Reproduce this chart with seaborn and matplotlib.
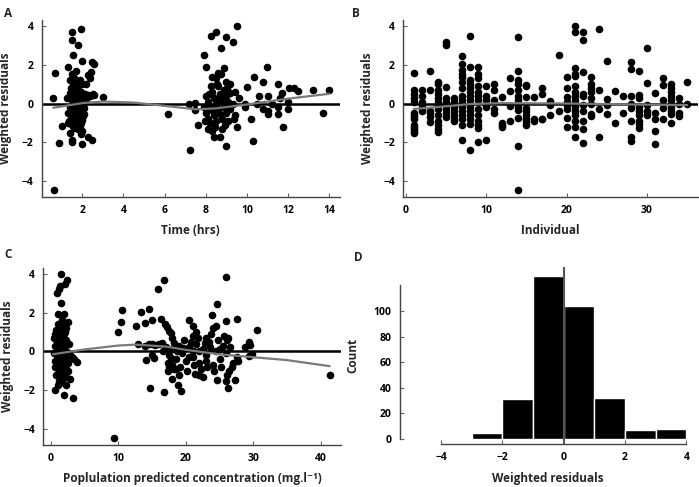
import matplotlib
matplotlib.use("Agg")
import matplotlib.pyplot as plt
import seaborn as sns

# ---- panel A: weighted residuals vs time ----
a_time = [0.6, 0.7, 0.9, 1.0, 0.65, 1.5, 1.5, 1.95, 1.8, 1.55, 2.0, 2.5, 2.6, 1.3, 1.7, 2.45, 2.4, 3.0,
          2.55, 1.3, 1.4, 1.5, 1.5, 2.0, 2.3, 2.5, 2.0, 1.95, 2.2, 2.3,
          1.4, 1.5, 1.6, 1.7, 1.8, 1.9, 2.0, 1.45, 1.55, 1.65, 1.75, 1.85, 1.95, 2.05, 2.15, 1.35,
          1.5, 1.6, 1.7, 1.8, 1.9, 2.0, 2.1, 2.2, 2.3, 1.4, 1.5, 1.6, 1.7, 1.8, 1.9, 2.0, 2.1,
          1.45, 1.55, 1.65, 1.75, 1.85, 1.95, 2.05, 1.35, 1.5, 1.6, 1.7, 1.8, 1.9, 2.0, 2.1,
          1.55, 1.65, 1.75, 1.85, 1.6, 1.4, 2.4, 2.6, 1.25, 1.3,
          6.15, 7.25, 7.2, 7.5, 7.5, 7.6, 7.9, 8.0, 8.25, 8.5, 8.75, 9.0, 9.3, 9.5, 8.9, 8.6, 8.75,
          8.5, 8.3, 9.0, 9.2, 9.4, 9.6, 10.0, 10.35, 10.8, 10.95, 11.5, 11.7, 12.05, 12.3, 12.5,
          13.2, 14.0, 13.7, 11.75, 10.3, 10.2, 9.0, 9.5, 8.4, 8.7, 8.1, 8.3, 8.8, 10.6, 11.0, 11.0,
          11.0, 11.5, 11.5, 12.0, 12.0, 10.8, 9.9, 9.9, 10.5, 11.2, 11.6,
          8.0, 8.1, 8.2, 8.0, 8.1, 8.2, 8.3, 8.4, 8.5, 8.3, 8.4, 8.5, 8.6, 8.7, 8.8, 8.6, 8.7, 8.8,
          8.9, 9.0, 9.1, 8.9, 9.0, 9.1, 9.2, 9.3, 9.4, 9.2, 8.55, 8.45, 8.95, 9.35, 7.9, 7.95,
          8.65, 9.05, 8.25, 8.15]
a_wres = [0.3, 1.55, -2.05, -1.15, -4.45, 3.7, 3.25, 3.85, 3.0, 2.5, 2.2, 2.15, 2.05, 1.9, 1.65, 1.6, 1.3, 0.35,
          0.5, -1.0, -1.5, -1.9, -2.0, -2.1, -1.75, -1.9, -1.4, -1.55, 1.0, 1.45,
          1.2, 1.5, 1.3, 1.1, 0.9, 1.2, 1.0, 0.8, 0.6, 0.7, 0.5, 0.4, 0.6, 0.3, 0.5, 0.35,
          0.2, 0.1, 0.25, 0.0, 0.15, -0.1, 0.05, 0.2, 0.45, -0.2, -0.35, -0.15, -0.4, -0.3, -0.5, -0.45, -0.25,
          -0.6, -0.8, -0.7, -0.9, -0.75, -1.0, -0.65, -0.9, -1.1, -1.25, -1.05, -1.3, -1.15, -0.85, -0.55,
          0.95, -0.5, 0.8, -0.6, 0.45, 0.55, 0.4, 0.45, 0.3, -0.5,
          -0.55, -2.4, -0.05, 0.05, -0.35, -1.1, 2.5, 1.9, 3.45, 3.7, 2.85, 3.4, 3.15, 4.0, 1.85, 1.55, 1.5,
          1.3, 1.35, 1.1, 1.0, 0.6, 0.3, 0.85, 1.35, 1.1, 1.9, 1.0, 0.55, 0.8, 0.8, 0.65,
          0.7, 0.7, -0.5, -1.2, -1.95, -0.8, -2.2, -1.2, -1.75, -1.75, -1.3, -1.4, -1.3, 0.4, 0.4, -0.4,
          -0.55, -0.2, -0.55, -0.3, 0.1, -0.3, -0.2, 0.0, 0.0, 0.0, 0.3,
          0.4, 0.1, -0.2, -0.5, -0.8, -1.0, 0.6, 0.3, 0.0, -0.35, -0.6, -0.9, 0.9, 0.5, 0.2, -0.3, -0.55, -0.8,
          0.7, 0.4, 0.1, -0.2, -0.5, -0.9, -0.3, 0.0, -0.6, 0.55, 1.0, -1.2, -1.1, -0.8, -0.2, -0.9,
          0.2, 0.8, 0.9, 0.5]
a_smooth_x = [0.6, 2.0, 3.0, 4.5, 6.0, 7.5, 8.5, 10.0, 12.0, 14.0]
a_smooth_y = [-0.22, 0.02, 0.1, 0.05, -0.12, -0.3, -0.25, -0.05, 0.25, 0.5]

# ---- panel B: weighted residuals by individual ----
b_res_by_id = {
    1: [1.55, 0.7, 0.5, 0.3, 0.1, -0.5, -0.6, -0.7, -0.8, -1.1, -1.2, -1.3, -1.4, -1.5],
    2: [0.7, 0.4, 0.1, -0.1, -0.3, -0.4],
    3: [1.65, 0.7, -0.4, -0.5, -0.7, -0.95],
    4: [1.1, 1.0, 0.7, 0.5, 0.3, 0.1, -0.1, -0.3, -0.6, -0.9, -1.1, -1.3, -1.45],
    5: [3.15, 3.0, 0.85, 0.3, 0.1, -0.1, -0.3, -0.5, -0.7],
    6: [0.3, 0.1, 0.0, -0.2, -0.4, -0.6, -0.8, -0.9],
    7: [2.45, 2.05, 1.7, 1.5, 1.35, 1.1, 0.8, 0.4, 0.2, 0.0, -0.2, -0.4, -0.6, -0.8, -1.1, -1.9],
    8: [3.45, 1.9, 1.2, 1.0, 0.8, 0.6, 0.4, 0.2, 0.0, -0.2, -0.4, -0.6, -0.8, -1.05, -2.4],
    9: [1.9, 1.5, 1.3, 0.9, 0.6, 0.4, 0.2, -0.3, -0.6, -0.9, -1.1, -1.25, -2.0],
    10: [0.9, 0.4, 0.2, -0.1, -0.2, -1.9],
    11: [1.0, 0.7, 0.2, -0.3, -0.5],
    12: [0.35, -1.0, -1.1, -1.2],
    13: [1.3, 0.65, -0.15, -0.9],
    14: [3.4, 1.65, 1.2, 1.0, 0.7, 0.4, 0.2, 0.0, -0.2, -0.35, -0.75, -2.2, -4.45],
    15: [0.95, 0.9, 0.35, -0.25, -0.4, -0.6, -0.8, -0.95, -1.1],
    16: [0.35, -0.8, -0.9],
    17: [0.8, 0.5, -0.8, -0.8],
    18: [0.15, -0.1, -0.6],
    19: [2.5, -0.4],
    20: [1.35, 0.8, 0.35, 0.1, -0.1, -0.3, -0.75, -1.2],
    21: [4.0, 3.7, 1.85, 1.5, 1.4, 0.9, 0.6, 0.4, 0.2, 0.0, -0.2, -0.4, -0.6, -0.9, -1.2, -1.75],
    22: [3.7, 3.25, 1.6, 0.5, 0.4, -0.1, -0.4, -0.9, -1.3, -2.05],
    23: [1.35, 1.0, 0.8, 0.6, 0.3, 0.0, -0.55, -0.65],
    24: [3.85, 0.7, -0.3, -1.7],
    25: [2.2, 0.25, -0.1, -0.55],
    26: [0.65, -1.0],
    27: [0.4, -0.5],
    28: [2.15, 1.8, 0.4, 0.0, -0.25, -0.9, -1.75, -1.95],
    29: [1.65, 0.45, 0.3, -0.2, -0.4, -0.6, -0.9, -1.05, -1.25],
    30: [2.85, 1.05, -0.1, -0.4, -0.6],
    31: [0.55, -0.5, -0.8, -1.4, -2.1],
    32: [1.3, 0.95, 0.2, -0.25, -0.8],
    33: [1.0, 0.8, 0.6, 0.4, 0.2, 0.0, -0.2, -0.4, -0.55, -1.0],
    34: [0.3, 0.0, -0.5, -0.65],
    35: [1.1, 0.0],
}
b_id = [i for i, v in b_res_by_id.items() for _ in v]
b_wres = [r for v in b_res_by_id.values() for r in v]
b_smooth_x = [1, 4, 8, 12, 20, 28, 35]
b_smooth_y = [-0.28, -0.18, -0.03, 0.02, 0.0, -0.05, -0.08]

# ---- panel C: weighted residuals vs population predicted concentration ----
c_conc = [1.5, 2.35, 2.1, 0.9, 1.2, 1.3, 1.55, 1.0, 2.0, 2.5, 0.65, 1.0, 2.0, 2.2, 3.25, 3.2, 3.5, 3.95,
          2.8, 1.7, 2.3,
          0.5, 0.6, 0.7, 0.8, 0.9, 1.0, 1.1, 1.2, 1.3, 1.4, 1.5, 1.6, 1.7, 1.8, 1.9, 2.0, 2.1, 2.2, 2.3,
          2.4, 0.6, 0.8, 1.0, 1.2, 1.4, 1.6, 1.8, 2.0, 2.2, 2.5, 2.6, 2.7, 0.7, 0.9, 1.1, 1.3, 1.5, 1.7,
          1.9, 2.1, 1.0, 1.4, 1.8, 2.3, 1.2, 1.6, 0.5, 1.15, 1.45, 1.85, 2.05, 2.9,
          9.3, 10.0, 10.4, 10.5, 12.6, 12.9, 13.4, 14.0, 14.5, 14.95, 14.0, 14.5, 15.0, 15.5, 16.0, 16.5,
          14.1, 15.0, 15.3, 14.7, 15.9, 16.8, 16.35, 16.9, 17.2, 16.7, 17.5, 17.8, 18.0, 18.3, 18.8,
          19.25, 18.0, 18.5, 18.0, 17.5, 17.4, 20.4, 21.0, 21.5, 21.0, 22.0, 22.5, 21.3, 23.9, 24.6,
          24.5, 24.0, 23.8, 23.0, 25.9, 25.9, 26.3, 26.1, 26.2, 25.9, 26.1, 26.4, 24.6, 27.65, 27.25,
          27.7, 27.6, 29.3, 29.5, 28.8, 29.8, 29.3, 30.6, 41.3,
          17.0, 17.5, 18.0, 18.5, 19.0, 19.5, 20.0, 20.5, 21.0, 21.5, 22.0, 22.5, 23.0, 23.5, 24.0, 24.5,
          25.0, 25.5, 26.0, 26.5, 27.0, 17.3, 18.2, 19.2, 20.2, 21.2, 22.2, 23.2, 24.2, 25.2, 26.8, 19.8,
          20.8, 21.8, 22.8, 23.6, 24.8, 25.6, 19.0, 20.5, 22.0, 23.0, 25.0, 21.0, 18.7, 19.6, 16.6, 17.8]
c_wres = [4.0, 3.7, 3.45, 3.0, 3.2, 3.35, 2.5, 1.9, 1.9, 1.5, -2.0, -1.75, -2.25, -1.75, -2.4, -0.3, -0.4, -0.55,
          -1.4, 1.6, 1.2,
          0.7, 0.3, -0.5, 1.1, 0.5, 0.0, -0.3, 0.8, 0.2, -0.6, 1.3, 0.6, -0.1, -0.9, 0.9, 0.3, -0.4, -1.1, 0.6,
          -0.2, -0.8, -1.2, -0.7, -1.0, -1.3, -1.1, -0.5, -0.8, 0.0, -0.6, -1.0, 0.4, 0.9, -0.2, 0.4, 1.0, 0.1, 0.7,
          -0.3, 1.0, 1.4, 1.2, 1.3, -0.7, -1.5, -1.6, -0.1, 0.15, 0.45, 0.1, -1.3, -0.2,
          -4.45, 1.0, 1.5, 2.15, 1.3, 0.4, 2.05, 1.45, 2.2, 1.6, 0.3, 0.4, 0.4, 0.35, 0.4, 0.45,
          -0.45, -0.2, -0.35, -1.9, 3.2, 3.7, 1.65, 1.4, 1.25, -2.1, 1.05, 0.95, 0.7, 0.45, -1.75,
          -2.05, -1.4, -0.9, -0.7, -0.8, -1.0, 1.6, 1.3, 1.0, 0.8, -1.2, -1.3, -1.15, 1.85, 2.45,
          1.3, 1.2, 0.9, 0.7, 3.85, 1.55, 0.7, 0.6, -1.9, -1.5, -1.2, -1.0, -1.45, 1.65, -1.45,
          -0.5, -0.3, 0.5, 0.35, 0.2, -0.15, -0.25, 1.1, -1.2,
          0.2, -0.2, 0.1, -0.4, 0.3, -0.1, -0.5, 0.2, -0.3, 0.4, -0.6, 0.1, -0.2, 0.5, -0.7, 0.0,
          -0.4, 0.3, -0.1, 0.2, -0.6, -0.6, -0.9, -0.8, -1.0, -0.7, -0.9, -0.8, -1.0, -0.8, -0.8, 0.6,
          0.5, 0.7, 0.45, 0.25, 0.6, 0.8, -1.2, -0.3, 0.0, -0.5, 0.1, 0.0, 0.0, 0.15, 0.0, -0.35]
c_smooth_x = [0.3, 5, 10, 12.5, 17, 20, 25, 30, 35, 41.3]
c_smooth_y = [-0.15, 0.1, 0.3, 0.35, 0.25, 0.08, -0.15, -0.3, -0.45, -0.76]

# ---- panel D: histogram of weighted residuals ----
d_bin_edges = [-3, -2, -1, 0, 1, 2, 3, 4]
d_bin_mid = [-2.5, -1.5, -0.5, 0.5, 1.5, 2.5, 3.5]
d_counts = [5, 31, 127, 104, 32, 7, 8]

sns.set_style("ticks")
plt.rcParams["font.family"] = ["Open Sans", "DejaVu Sans"]
plt.rcParams["font.weight"] = "bold"
plt.rcParams["axes.labelweight"] = "bold"
plt.rcParams["axes.linewidth"] = 1.0
plt.rcParams["axes.edgecolor"] = "#444444"
plt.rcParams["xtick.color"] = "#666666"
plt.rcParams["ytick.color"] = "#666666"
plt.rcParams["xtick.labelcolor"] = "black"
plt.rcParams["ytick.labelcolor"] = "black"
plt.rcParams["xtick.direction"] = "in"
plt.rcParams["ytick.direction"] = "in"
plt.rcParams["xtick.major.size"] = 3
plt.rcParams["ytick.major.size"] = 3

fig = plt.figure(figsize=(6.99, 4.87), dpi=100)
axA = fig.add_axes([0.060, 0.596, 0.426, 0.363])
axB = fig.add_axes([0.577, 0.596, 0.421, 0.363])
axC = fig.add_axes([0.062, 0.087, 0.426, 0.363])
axD = fig.add_axes([0.572, 0.088, 0.423, 0.363])

gray = "#7a7a7a"
pt = dict(color="black", s=30, linewidth=0, legend=False)
lab_fs = 8.5
tick_fs = 7.5

def residual_panel(ax, x, y, sx, sy, xlim, xticks, xlabel):
    ax.axhline(0, color="black", lw=1.8, zorder=1)
    sns.scatterplot(x=x, y=y, ax=ax, zorder=2, **pt)
    sns.lineplot(x=sx, y=sy, ax=ax, color=gray, lw=1.6, zorder=3)
    ax.set_xlim(*xlim)
    ax.set_ylim(-4.8, 4.3)
    ax.set_xticks(xticks)
    ax.set_yticks([-4, -2, 0, 2, 4])
    ax.set_yticklabels(["\u22124", "\u22122", "0", "2", "4"])
    ax.set_xlabel(xlabel, fontsize=lab_fs, labelpad=6)
    ax.set_ylabel("Weighted residuals", fontsize=lab_fs, labelpad=7)
    ax.tick_params(labelsize=tick_fs, pad=6)
    sns.despine(ax=ax)

residual_panel(axA, a_time, a_wres, a_smooth_x, a_smooth_y, (0.05, 14.5),
               [2, 4, 6, 8, 10, 12, 14], "Time (hrs)")
residual_panel(axB, b_id, b_wres, b_smooth_x, b_smooth_y, (-0.3, 36.3),
               [0, 10, 20, 30], "Individual")
residual_panel(axC, c_conc, c_wres, c_smooth_x, c_smooth_y, (-1.1, 43),
               [0, 10, 20, 30, 40], "Poplulation predicted concentration (mg.l\u207b\u00b9)")

sns.histplot(x=d_bin_mid, weights=d_counts, bins=d_bin_edges, ax=axD,
             color="black", edgecolor="white", linewidth=1.0, alpha=1)
axD.axvline(0, color="#555555", lw=1.5)
axD.set_xlim(-5.35, 4.3)
axD.set_ylim(-4, 134)
axD.set_xticks([-4, -2, 0, 2, 4])
axD.set_xticklabels(["\u22124", "\u22122", "0", "2", "4"])
axD.set_yticks([0, 20, 40, 60, 80, 100])
axD.set_xlabel("Weighted residuals", fontsize=lab_fs, labelpad=6)
axD.set_ylabel("Count", fontsize=lab_fs, labelpad=10)
axD.tick_params(labelsize=tick_fs, pad=6)
sns.despine(ax=axD)
axD.spines["left"].set_bounds(0, 120)
axD.spines["bottom"].set_bounds(-4, 4)

for label, (fx, fy) in zip("ABCD", [(0.006, 0.985), (0.503, 0.985), (0.006, 0.49), (0.507, 0.485)]):
    fig.text(fx, fy, label, fontsize=8.5, fontweight="bold", va="top", ha="left")

fig.savefig("out.png", dpi=100)
